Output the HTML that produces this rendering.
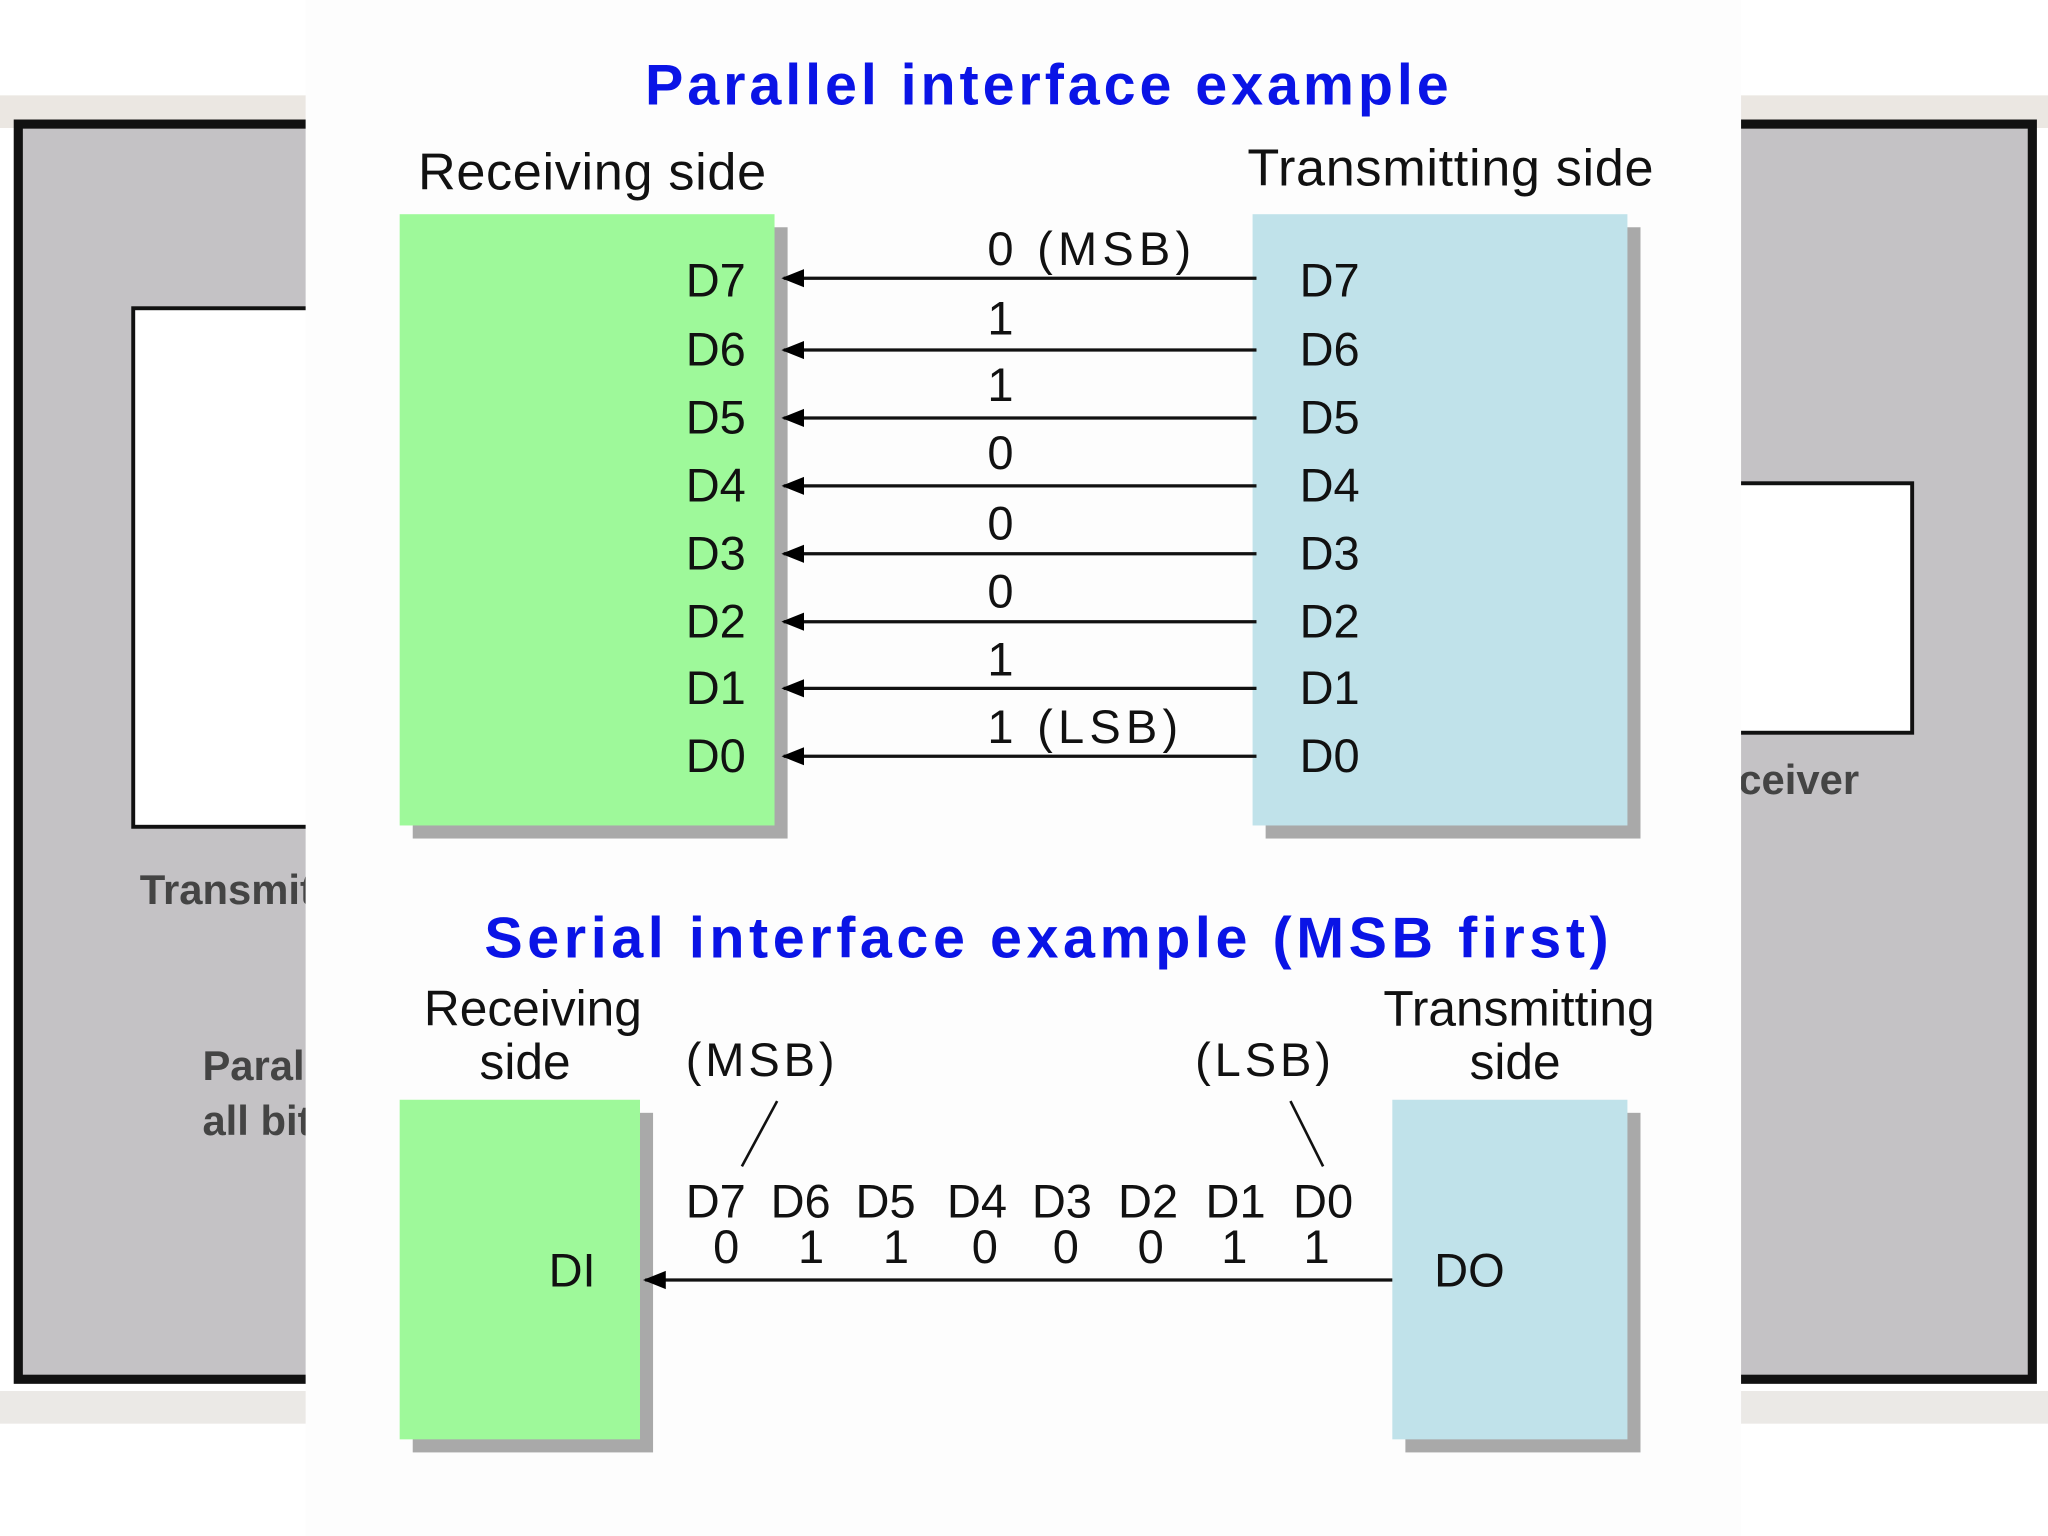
<!DOCTYPE html>
<html><head><style>html,body{margin:0;padding:0;background:#fff;overflow:hidden}svg{display:block}</style></head>
<body>
<svg width="2048" height="1536" viewBox="0 0 1568 1176" xmlns="http://www.w3.org/2000/svg" font-family="Liberation Sans, sans-serif">
<defs><marker id="a" viewBox="0 0 10 10" refX="9" refY="5" markerWidth="7" markerHeight="7" orient="auto"><path d="M0,1 L10,5 L0,9 z" fill="#000"/></marker></defs>
<rect width="1568" height="1176" fill="#fff"/>
<rect x="0" y="73" width="1568" height="25" fill="#ebe7e2"/>
<rect x="0" y="1065" width="1568" height="25" fill="#ebe9e6"/>
<rect x="14" y="95" width="1542" height="961" fill="#c4c2c5" stroke="#111" stroke-width="7"/>
<rect x="102" y="236" width="200" height="397" fill="#fff" stroke="#111" stroke-width="3"/>
<rect x="1300" y="370" width="164" height="191" fill="#fff" stroke="#111" stroke-width="3"/>
<text x="107" y="692" font-size="32" font-weight="bold" fill="#444">Transmitter</text>
<text x="155" y="827" font-size="32" font-weight="bold" fill="#444">Parallel</text>
<text x="155" y="869" font-size="32" font-weight="bold" fill="#444">all bits</text>
<text x="1290" y="608" font-size="32" font-weight="bold" fill="#444">Receiver</text>
<rect x="234" y="0" width="1099" height="1176" fill="#fdfdfd"/>
<text x="803" y="80" font-size="44" font-weight="bold" fill="#0a14e6" text-anchor="middle" letter-spacing="3">Parallel interface example</text>
<text x="320" y="145" font-size="40" fill="#111" letter-spacing="0.5">Receiving side</text>
<text x="955" y="142" font-size="40" fill="#111" letter-spacing="0.5">Transmitting side</text>
<rect x="316" y="174" width="287" height="468" fill="#a9a9a9"/>
<rect x="306" y="164" width="287" height="468" fill="#9ef99a"/>
<rect x="969" y="174" width="287" height="468" fill="#a9a9a9"/>
<rect x="959" y="164" width="287" height="468" fill="#c0e2ea"/>
<g stroke="#111" stroke-width="2.5">
<line x1="962" y1="213" x2="600" y2="213" marker-end="url(#a)"/>
<line x1="962" y1="268" x2="600" y2="268" marker-end="url(#a)"/>
<line x1="962" y1="320" x2="600" y2="320" marker-end="url(#a)"/>
<line x1="962" y1="372" x2="600" y2="372" marker-end="url(#a)"/>
<line x1="962" y1="424" x2="600" y2="424" marker-end="url(#a)"/>
<line x1="962" y1="476" x2="600" y2="476" marker-end="url(#a)"/>
<line x1="962" y1="527" x2="600" y2="527" marker-end="url(#a)"/>
<line x1="962" y1="579" x2="600" y2="579" marker-end="url(#a)"/>
</g>
<g font-size="36" fill="#111">
<text x="525" y="227">D7</text><text x="525" y="280">D6</text><text x="525" y="332">D5</text><text x="525" y="384">D4</text><text x="525" y="436">D3</text><text x="525" y="488">D2</text><text x="525" y="539">D1</text><text x="525" y="591">D0</text>
<text x="995" y="227">D7</text><text x="995" y="280">D6</text><text x="995" y="332">D5</text><text x="995" y="384">D4</text><text x="995" y="436">D3</text><text x="995" y="488">D2</text><text x="995" y="539">D1</text><text x="995" y="591">D0</text>
<text x="756" y="203" letter-spacing="4">0 (MSB)</text><text x="756" y="256">1</text><text x="756" y="307">1</text><text x="756" y="359">0</text><text x="756" y="413">0</text><text x="756" y="465">0</text><text x="756" y="517">1</text><text x="756" y="569" letter-spacing="4">1 (LSB)</text>
</g>
<text x="803" y="733" font-size="44" font-weight="bold" fill="#0a14e6" text-anchor="middle" letter-spacing="3.5">Serial interface example (MSB first)</text>
<g font-size="38" fill="#111" text-anchor="middle">
<text x="408" y="785">Receiving</text><text x="402" y="826">side</text>
<text x="1163" y="785">Transmitting</text><text x="1160" y="826">side</text>
</g>
<g font-size="36" fill="#111" letter-spacing="3">
<text x="525" y="824">(MSB)</text><text x="915" y="824">(LSB)</text>
</g>
<line x1="595" y1="843" x2="568" y2="893" stroke="#111" stroke-width="2"/>
<line x1="988" y1="843" x2="1013" y2="893" stroke="#111" stroke-width="2"/>
<rect x="316" y="852" width="184" height="260" fill="#a9a9a9"/>
<rect x="306" y="842" width="184" height="260" fill="#9ef99a"/>
<rect x="1076" y="852" width="180" height="260" fill="#a9a9a9"/>
<rect x="1066" y="842" width="180" height="260" fill="#c0e2ea"/>
<line x1="1066" y1="980" x2="494" y2="980" stroke="#111" stroke-width="2.5" marker-end="url(#a)"/>
<g font-size="36" fill="#111" text-anchor="middle">
<text x="548" y="932">D7</text><text x="613" y="932">D6</text><text x="678" y="932">D5</text><text x="748" y="932">D4</text><text x="813" y="932">D3</text><text x="879" y="932">D2</text><text x="946" y="932">D1</text><text x="1013" y="932">D0</text>
<text x="556" y="967">0</text><text x="621" y="967">1</text><text x="686" y="967">1</text><text x="754" y="967">0</text><text x="816" y="967">0</text><text x="881" y="967">0</text><text x="945" y="967">1</text><text x="1008" y="967">1</text>
</g>
<text x="420" y="985" font-size="36" fill="#111">DI</text>
<text x="1098" y="985" font-size="36" fill="#111">DO</text>
</svg>
</body></html>
